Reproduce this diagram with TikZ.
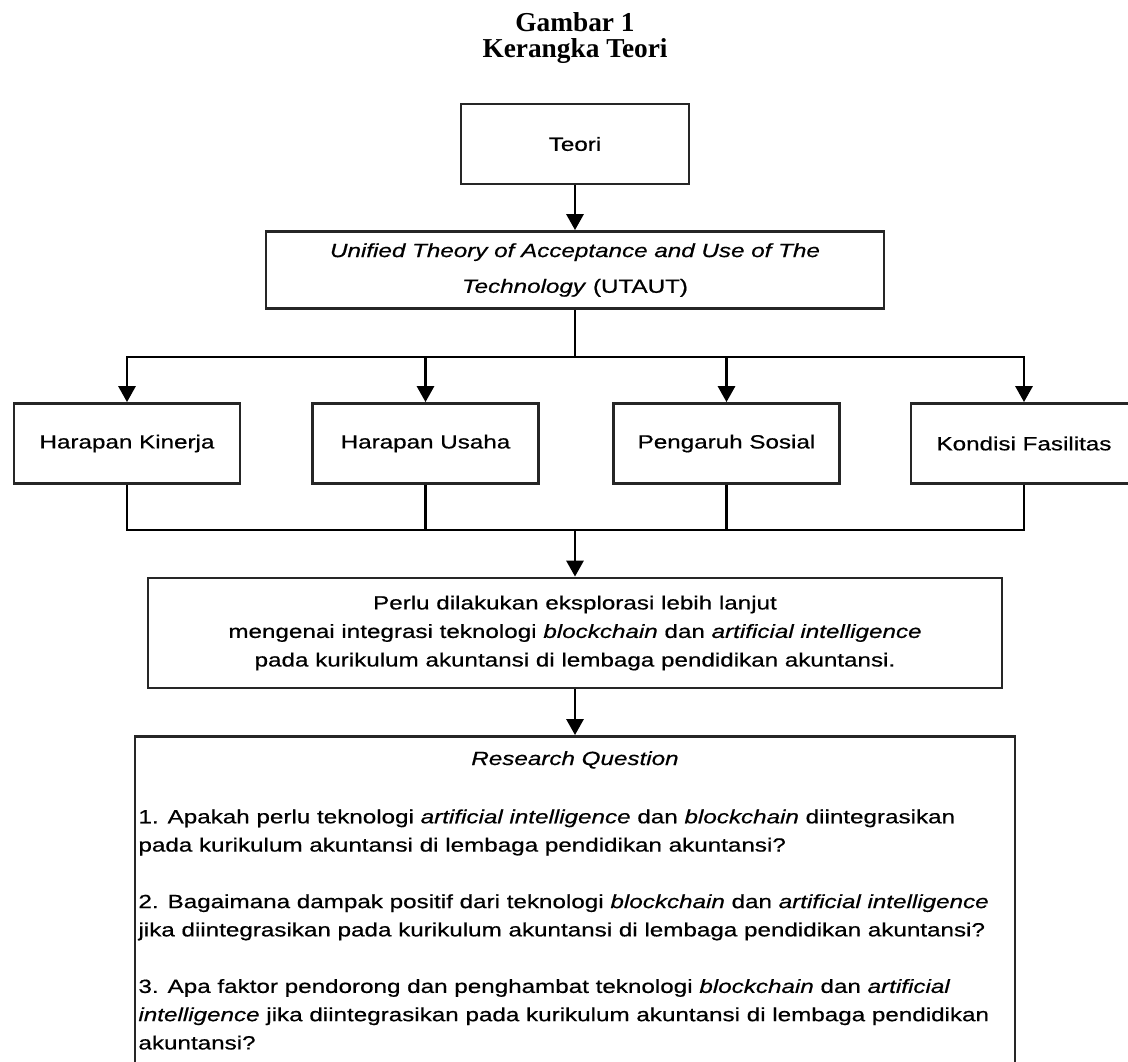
\documentclass[tikz,border=0pt]{standalone}
\usepackage{fontspec}
\usetikzlibrary{arrows.meta}
\newfontfamily\boxfont{Liberation Sans}[FakeStretch=1.27,FakeBold=0.6]
\newfontfamily\judulfont{Liberation Serif}

\begin{document}
\begin{tikzpicture}
  [x=0.75pt,y=-0.75pt,line width=1.6pt,
   every node/.style={rectangle,draw=black!85,line width=2.2pt,inner sep=0pt,align=center,
     font=\boxfont\fontsize{14.3}{21.2}\selectfont},
   kotak/.style={minimum width=169.5pt,minimum height=60pt},
   judul/.style={draw=none,font=\judulfont\bfseries\fontsize{20.5}{25}\selectfont},
   teks/.style={draw=none}]
  \useasboundingbox (0,0) rectangle (1128,1061);
  \clip (0,0) rectangle (1128,1061);
  \node[judul,anchor=base] (gambar) at (575,31) {Gambar 1};
  \node[judul,anchor=base] (kerangka) at (575,57.5) {Kerangka Teori};
  \node[minimum width=171pt,minimum height=60pt] (teori) at (575,144) {Teori};
  \node[minimum width=463.5pt,minimum height=57.75pt,font=\boxfont\fontsize{14.3}{26.8}\selectfont]
    (utaut) at (575,270) {\textit{Unified Theory of Acceptance and Use of The}\\\textit{Technology} (UTAUT)};
  \node[kotak] (hk) at (127,443.5) {Harapan Kinerja};
  \node[kotak] (hu) at (425.5,443.5) {Harapan Usaha};
  \node[kotak] (ps) at (726.5,443.5) {Pengaruh Sosial};
  \node[kotak] (kf) at (1024,443.5) {Kondisi Fasilitas};
  \node[minimum width=640.5pt,minimum height=82.5pt,font=\boxfont\fontsize{14.3}{21.4}\selectfont]
    (perlu) at (575,633) {Perlu dilakukan eksplorasi lebih lanjut\\
    mengenai integrasi teknologi \textit{blockchain} dan \textit{artificial intelligence}\\
    pada kurikulum akuntansi di lembaga pendidikan akuntansi.};
  \node[minimum width=660pt,minimum height=300pt,anchor=north] (rq) at (575,735) {};
  \node[teks,anchor=base] (rqjudul) at (575,765) {\textit{Research Question}};
  \node[teks,anchor=north west,align=left] (rqisi) at (137,808) {%
    1. Apakah perlu teknologi \textit{artificial intelligence} dan \textit{blockchain} diintegrasikan\\
    pada kurikulum akuntansi di lembaga pendidikan akuntansi?\\[21.2pt]
    2. Bagaimana dampak positif dari teknologi \textit{blockchain} dan \textit{artificial intelligence}\\
    jika diintegrasikan pada kurikulum akuntansi di lembaga pendidikan akuntansi?\\[21.2pt]
    3. Apa faktor pendorong dan penghambat teknologi \textit{blockchain} dan \textit{artificial}\\
    \textit{intelligence} jika diintegrasikan pada kurikulum akuntansi di lembaga pendidikan\\
    akuntansi?};
  \coordinate (split) at (575,357);
  \coordinate (join) at (575,530);
  \draw (utaut) -- (split);
  \foreach \from in {hk,hu,ps,kf}
    \draw (\from) |- (join);
  \begin{scope}[-{Triangle[width=13pt,length=12pt]}]
    \foreach \from/\to in {teori/utaut,join/perlu,perlu/rq}
    \draw (\from) -- (\to);
    \foreach \to in {hk,hu,ps,kf}
    \draw (split) -| (\to);
  \end{scope}
\end{tikzpicture}
\end{document}
